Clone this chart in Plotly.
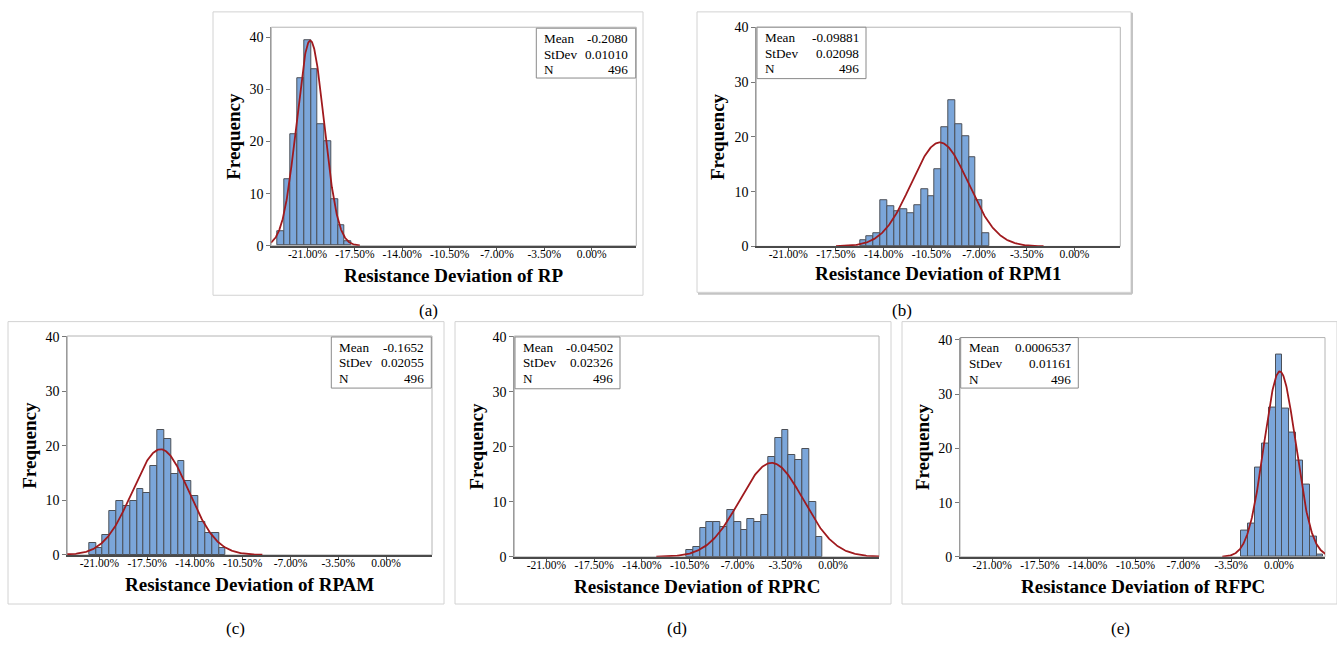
import numpy as np
import plotly.graph_objects as go

W, H = 1337, 656

# ---------------- data (bin midpoints as fractions, frequencies as drawn) ----------------
rp_bins = [-0.230, -0.225, -0.220, -0.215, -0.210, -0.205, -0.200, -0.195, -0.190, -0.185, -0.180]
rp_freq = [2.8, 12.8, 21.4, 32.2, 39.4, 33.8, 23.3, 20.1, 8.9, 3.9, 0.8]

rpm1_bins = [-0.155, -0.150, -0.145, -0.140, -0.135, -0.130, -0.125, -0.120, -0.115, -0.110,
             -0.105, -0.100, -0.095, -0.090, -0.085, -0.080, -0.075, -0.070, -0.065]
rpm1_freq = [1.2, 1.9, 2.4, 8.5, 7.3, 6.4, 6.8, 6.0, 7.6, 10.4,
             9.2, 14.1, 21.7, 26.6, 22.3, 20.1, 16.2, 8.5, 2.4]

rpam_bins = [-0.215, -0.210, -0.205, -0.200, -0.195, -0.190, -0.185, -0.180, -0.175, -0.170,
             -0.165, -0.160, -0.155, -0.150, -0.145, -0.140, -0.135, -0.130, -0.125, -0.120]
rpam_freq = [2.1, 1.2, 3.7, 8.1, 9.8, 8.9, 9.8, 12.1, 11.3, 16.4,
             22.9, 21.3, 14.8, 17.3, 13.6, 10.9, 6.1, 4.1, 4.1, 1.2]

rprc_bins = [-0.105, -0.100, -0.095, -0.090, -0.085, -0.080, -0.075, -0.070, -0.065, -0.060,
             -0.055, -0.050, -0.045, -0.040, -0.035, -0.030, -0.025, -0.020, -0.015, -0.010]
rprc_freq = [1.2, 1.7, 5.2, 6.4, 6.4, 5.5, 8.5, 6.4, 4.9, 6.8,
             6.4, 7.6, 18.1, 21.7, 23.0, 18.5, 17.7, 19.7, 10.0, 3.6]

rfpc_bins = [-0.025, -0.020, -0.015, -0.010, -0.005, 0.000, 0.005, 0.010, 0.015, 0.020, 0.025, 0.030]
rfpc_freq = [4.8, 6.1, 16.5, 20.9, 27.6, 37.3, 27.4, 23.0, 17.8, 13.3, 3.8, 0.5]

bin_width = 0.005

names = ["RP", "RPM1", "RPAM", "RPRC", "RFPC"]
sub_labels = ["(a)", "(b)", "(c)", "(d)", "(e)"]
means = [-0.2080, -0.09881, -0.1652, -0.04502, 0.0006537]
stdevs = [0.01010, 0.02098, 0.02055, 0.02326, 0.01161]
n_obs = [496, 496, 496, 496, 496]
mean_txt = ["-0.2080", "-0.09881", "-0.1652", "-0.04502", "0.0006537"]
std_txt = ["0.01010", "0.02098", "0.02055", "0.02326", "0.01161"]

x_tickvals = [-0.21, -0.175, -0.14, -0.105, -0.07, -0.035, 0.0]
x_ticktext = ["-21.00%", "-17.50%", "-14.00%", "-10.50%", "-7.00%", "-3.50%", "0.00%"]
y_tickvals = [0, 10, 20, 30, 40]

bins_all = [rp_bins, rpm1_bins, rpam_bins, rprc_bins, rfpc_bins]
freq_all = [rp_freq, rpm1_freq, rpam_freq, rprc_freq, rfpc_freq]

# ---------------- layout geometry (pixels) ----------------
plot_px = [  # left, right, top, bottom
    (271.3, 636.3, 20.7, 244.3),
    (756.3, 1120.3, 20.7, 245.0),
    (67.3, 432.0, 336.7, 560.7),
    (514.3, 879.0, 336.7, 562.7),
    (960.0, 1325.0, 338.3, 562.7),
]
x_ranges = [(-0.2368, 0.0330), (-0.2335, 0.0337), (-0.2335, 0.0337), (-0.2335, 0.0337), (-0.2335, 0.0337)]
y_tops = [41.93, 40.0, 40.18, 40.18, 40.43]
frames_px = [(213, 643, 5, 295), (697, 1131, 5, 292), (8, 444, 322, 611), (455, 891, 322, 611), (902, 1337, 322, 611)]
stat_boxes = [(536.3, 635.7, 21.7, 72.7), (757.0, 866.0, 20.7, 73.3), (331.3, 431.3, 337.7, 390.0),
              (515.0, 620.0, 337.7, 390.7), (960.7, 1078.3, 338.3, 390.0)]
xtitle_dy = [30, 27.5, 30, 30.7, 30.7]
sub_pos = [(428, 311), (902, 311), (235, 636), (677, 636), (1120, 636)]

FONT = "Liberation Serif"
BAR_FILL = "#7BA6DA"
BAR_LINE = "#4C5058"
CURVE = "#A01A1E"


def px(x):
    return x / W


def py(y):
    return 1 - y / H


fig = go.Figure()
shapes = []
annotations = []
layout_axes = {}

for i in range(5):
    k = "" if i == 0 else str(i + 1)
    xa, ya = "x" + k, "y" + k
    l, r, t, b = plot_px[i]

    fig.add_trace(go.Bar(
        x=bins_all[i], y=freq_all[i], width=bin_width,
        marker=dict(color=BAR_FILL, line=dict(color=BAR_LINE, width=1)),
        xaxis=xa, yaxis=ya, showlegend=False, hoverinfo="skip"))

    # fitted normal curve from the listed mean / stdev, scaled to the histogram area
    mu, sd = means[i], stdevs[i]
    xs = np.linspace(mu - 3.63 * sd, mu + 3.63 * sd, 300)
    area = sum(freq_all[i]) * bin_width
    ys = area * np.exp(-0.5 * ((xs - mu) / sd) ** 2) / (sd * np.sqrt(2 * np.pi))
    fig.add_trace(go.Scatter(
        x=xs, y=ys, mode="lines", line=dict(color=CURVE, width=1.8),
        xaxis=xa, yaxis=ya, showlegend=False, hoverinfo="skip"))

    layout_axes["xaxis" + k] = dict(
        domain=[px(l), px(r)], anchor=ya, range=list(x_ranges[i]),
        tickvals=x_tickvals, ticktext=x_ticktext, ticks="outside", ticklen=3,
        ticklabelstandoff=-7,
        tickcolor="#555555", tickfont=dict(family=FONT, size=11.5, color="black"),
        showline=True, linecolor="#4a4a4a", linewidth=2, showgrid=False, zeroline=False,
        fixedrange=True)
    layout_axes["yaxis" + k] = dict(
        domain=[py(b), py(t)], anchor=xa, range=[0, y_tops[i]],
        tickvals=y_tickvals, ticks="outside", ticklen=4, tickcolor="#777777",
        tickfont=dict(family=FONT, size=14, color="black"),
        showline=True, linecolor="#9a9a9a", linewidth=1, showgrid=False, zeroline=False,
        fixedrange=True)

    # plot frame (top/right)
    shapes.append(dict(type="rect", xref=xa + " domain", yref=ya + " domain", x0=0, x1=1, y0=0, y1=1,
                       line=dict(color="#b4b4b4", width=1), layer="below"))
    # panel frame
    fl, fr, ft, fb = frames_px[i]
    shapes.append(dict(type="rect", xref="paper", yref="paper", x0=px(fl), x1=px(fr), y0=py(fb), y1=py(ft),
                       line=dict(color="#d2d2d2", width=1), layer="below"))
    if i == 1:
        shapes.append(dict(type="line", xref="paper", yref="paper", x0=px(fl + 1), x1=px(fr + 1),
                           y0=py(fb + 1.5), y1=py(fb + 1.5), line=dict(color="#c4c4c4", width=2), layer="below"))
        shapes.append(dict(type="line", xref="paper", yref="paper", x0=px(fr + 1), x1=px(fr + 1),
                           y0=py(fb + 1.5), y1=py(ft + 1), line=dict(color="#c4c4c4", width=2), layer="below"))

    # stats box
    sl, sr, st, sb = stat_boxes[i]
    shapes.append(dict(type="rect", xref="paper", yref="paper", x0=px(sl), x1=px(sr), y0=py(sb), y1=py(st),
                       line=dict(color="#8a8a8a", width=1), fillcolor="white", layer="above"))
    rows = [("Mean", mean_txt[i]), ("StDev", std_txt[i]), ("N", str(n_obs[i]))]
    for j, (lab, val) in enumerate(rows):
        yy = st + 10.5 + 16 * j
        annotations.append(dict(xref="paper", yref="paper", x=px(sl + 6), y=py(yy), text=lab,
                                showarrow=False, xanchor="left", yanchor="middle",
                                font=dict(family=FONT, size=13.2, color="black")))
        annotations.append(dict(xref="paper", yref="paper", x=px(sr - 5.5), y=py(yy), text=val,
                                showarrow=False, xanchor="right", yanchor="middle",
                                font=dict(family=FONT, size=13.2, color="black")))

    # axis titles
    annotations.append(dict(xref="paper", yref="paper", x=px((l + r) / 2), y=py(b + xtitle_dy[i]),
                            text="<b>Resistance Deviation of %s</b>" % names[i], showarrow=False,
                            xanchor="center", yanchor="middle",
                            font=dict(family=FONT, size=19, color="black")))
    annotations.append(dict(xref="paper", yref="paper", x=px(l - 38), y=py((t + b) / 2),
                            text="<b>Frequency</b>", showarrow=False, textangle=-90,
                            xanchor="center", yanchor="middle",
                            font=dict(family=FONT, size=19, color="black")))
    # sub-figure label
    annotations.append(dict(xref="paper", yref="paper", x=px(sub_pos[i][0]), y=py(sub_pos[i][1]),
                            text=sub_labels[i], showarrow=False, xanchor="center", yanchor="middle",
                            font=dict(family=FONT, size=17, color="black")))

fig.update_layout(
    width=W, height=H, margin=dict(l=0, r=0, t=0, b=0),
    paper_bgcolor="white", plot_bgcolor="white",
    font=dict(family=FONT, color="black"),
    bargap=0, shapes=shapes, annotations=annotations, showlegend=False,
    **layout_axes)

fig.write_html("out.html", config={"displayModeBar": False})
